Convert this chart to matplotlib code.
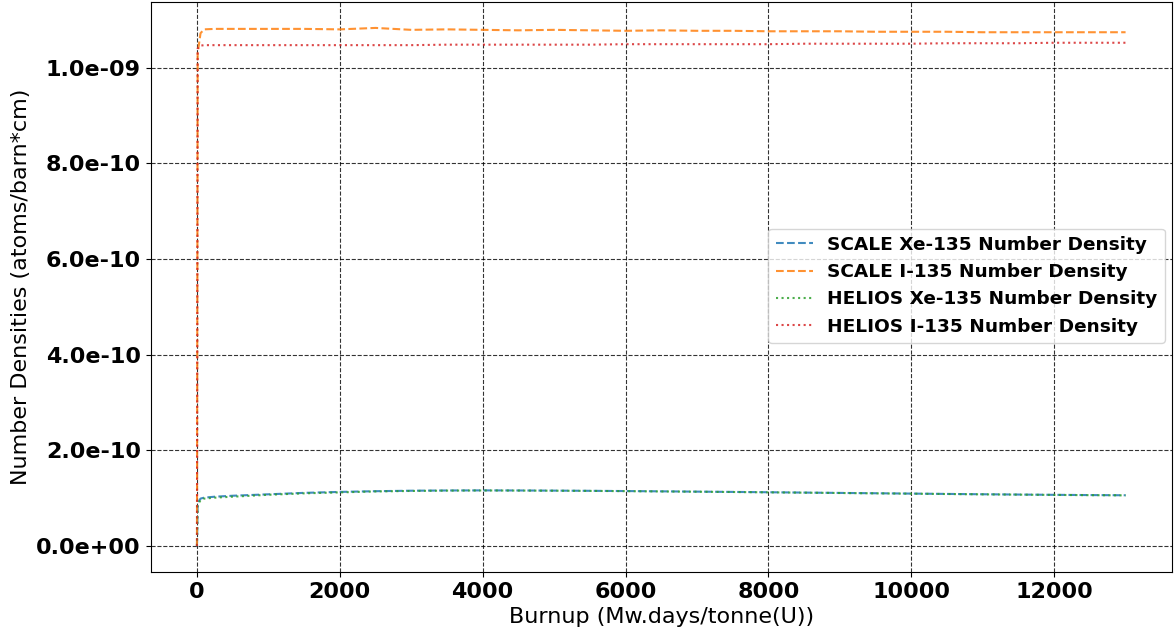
import matplotlib
matplotlib.use("Agg")
import matplotlib.pyplot as plt
from matplotlib.ticker import FormatStrFormatter

# burnup steps (MWd/tU)
burnup = [0, 10, 50, 100, 250, 500, 1000, 1500, 2000, 2500, 3000, 3500, 4000,
          4500, 5000, 5500, 6000, 6500, 7000, 7500, 8000, 8500, 9000, 9500,
          10000, 10500, 11000, 11500, 12000, 12500, 13000]

# number densities (atoms/barn*cm)
scale_xe = [0.0, 0.90e-10, 0.99e-10, 1.01e-10, 1.03e-10, 1.05e-10, 1.08e-10, 1.11e-10,
            1.13e-10, 1.145e-10, 1.155e-10, 1.16e-10, 1.162e-10, 1.16e-10, 1.157e-10,
            1.153e-10, 1.148e-10, 1.142e-10, 1.136e-10, 1.13e-10, 1.123e-10, 1.116e-10,
            1.109e-10, 1.102e-10, 1.095e-10, 1.088e-10, 1.081e-10, 1.075e-10,
            1.069e-10, 1.064e-10, 1.06e-10]
scale_i = [0.0, 1.03e-09, 1.072e-09, 1.080e-09, 1.081e-09, 1.081e-09, 1.081e-09,
           1.081e-09, 1.080e-09, 1.083e-09, 1.079e-09, 1.080e-09, 1.079e-09,
           1.078e-09, 1.079e-09, 1.078e-09, 1.077e-09, 1.078e-09, 1.077e-09,
           1.077e-09, 1.076e-09, 1.076e-09, 1.076e-09, 1.075e-09, 1.075e-09,
           1.075e-09, 1.074e-09, 1.074e-09, 1.074e-09, 1.074e-09, 1.074e-09]
helios_xe = [0.0, 0.85e-10, 0.96e-10, 0.99e-10, 1.01e-10, 1.03e-10, 1.07e-10, 1.10e-10,
             1.12e-10, 1.14e-10, 1.15e-10, 1.157e-10, 1.16e-10, 1.158e-10, 1.155e-10,
             1.151e-10, 1.146e-10, 1.14e-10, 1.134e-10, 1.128e-10, 1.121e-10, 1.114e-10,
             1.107e-10, 1.10e-10, 1.093e-10, 1.086e-10, 1.079e-10, 1.073e-10,
             1.067e-10, 1.062e-10, 1.058e-10]
helios_i = [0.0, 1.040e-09, 1.046e-09, 1.047e-09, 1.047e-09, 1.047e-09, 1.047e-09,
            1.047e-09, 1.047e-09, 1.047e-09, 1.047e-09, 1.048e-09, 1.048e-09,
            1.048e-09, 1.048e-09, 1.048e-09, 1.049e-09, 1.049e-09, 1.049e-09,
            1.049e-09, 1.049e-09, 1.050e-09, 1.050e-09, 1.050e-09, 1.050e-09,
            1.051e-09, 1.051e-09, 1.051e-09, 1.052e-09, 1.052e-09, 1.052e-09]

fig, ax = plt.subplots(figsize=(11.76, 6.34), dpi=100)
fig.subplots_adjust(left=0.128, right=0.9966, top=0.9968, bottom=0.098)

ax.plot(burnup, scale_xe, "--", color="C0", alpha=0.85, label="SCALE Xe-135 Number Density")
ax.plot(burnup, scale_i, "--", color="C1", alpha=0.85, label="SCALE I-135 Number Density")
ax.plot(burnup, helios_xe, ":", color="C2", alpha=0.85, label="HELIOS Xe-135 Number Density")
ax.plot(burnup, helios_i, ":", color="C3", alpha=0.85, label="HELIOS I-135 Number Density")

ax.yaxis.set_major_formatter(FormatStrFormatter("%.1e"))
ax.set_yticks([0, 2e-10, 4e-10, 6e-10, 8e-10, 1e-9])
for lbl in ax.get_xticklabels() + ax.get_yticklabels():
    lbl.set_fontweight("bold")
    lbl.set_fontsize(16)

ax.set_xlabel("Burnup (Mw.days/tonne(U))", fontsize=16)
ax.set_ylabel("Number Densities (atoms/barn*cm)", fontsize=16)
ax.grid(True, color="black", linestyle="--", linewidth=0.8, alpha=0.8)

ax.legend(loc="center right", bbox_to_anchor=(1.002, 0.502),
          prop={"weight": "bold", "size": 13.3}, handlelength=2.0)

plt.savefig("out.png", dpi=100)
